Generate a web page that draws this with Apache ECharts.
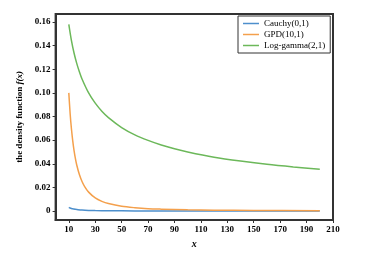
<!DOCTYPE html>
<html><head><meta charset="utf-8">
<script src="https://cdn.jsdelivr.net/npm/echarts@6/dist/echarts.min.js"></script>
<style>html,body{margin:0;padding:0;background:#fff}#c{width:380px;height:269px}</style>
</head><body><div id="c"></div>
<script>
var seriesNames = ['Cauchy(0,1)', 'GPD(10,1)', 'Log-gamma(2,1)'];
var xCauchy = [10,11,12,13,14,15,17,20,25,30,40,50,70,100,150,200];
var yCauchy = [0.00315,0.00261,0.00220,0.00187,0.00162,0.00141,0.00110,0.00079,0.00051,0.00035,0.00020,0.00013,0.000065,0.000032,0.000014,0.000008];
var xGpd = [10,11,12,13,14,15,16,18,20,22,25,30,35,40,50,60,70,80,100,120,150,200];
var yGpd = [0.1,0.0826,0.0694,0.0592,0.051,0.0444,0.039,0.0309,0.025,0.0207,0.016,0.0111,0.0082,0.0063,0.004,0.0028,0.002,0.0016,0.001,0.0007,0.00044,0.00025];
var xLg = [10,12,14,16,18,20,25,30,35,40,50,60,70,80,90,100,120,140,160,180,200];
var yLg = [0.1581,0.1443,0.1336,0.125,0.1179,0.1118,0.1,0.0913,0.0845,0.0791,0.0707,0.0645,0.0598,0.0559,0.0527,0.05,0.0456,0.0423,0.0395,0.0373,0.0354];
var xTicks = [10,30,50,70,90,110,130,150,170,190,210];
var yTicks = [0,0.02,0.04,0.06,0.08,0.10,0.12,0.14,0.16];

function pairs(xs, ys){ return xs.map(function(x,i){ return [x, ys[i]]; }); }
var colors = ['#4d8fcc', '#f4a04c', '#6cb85a'];
var serif = 'Liberation Serif';
var chart = echarts.init(document.getElementById('c'), null, {renderer:'canvas'});
chart.setOption({
  animation: false,
  color: colors,
  grid: {left: 55.6, right: 47, top: 14, bottom: 49, show: true, borderColor: '#333', borderWidth: 2, backgroundColor: 'transparent'},
  legend: {
    orient: 'vertical', left: 238, top: 16,
    data: seriesNames,
    icon: 'rect', itemWidth: 16, itemHeight: 1.5, itemGap: 2,
    borderColor: '#333', borderWidth: 1, padding: [3, 5, 3, 5],
    textStyle: {fontFamily: serif, fontSize: 9, color: '#000'}
  },
  xAxis: {
    type: 'value', min: 0, max: 210,
    name: 'x', nameLocation: 'middle', nameGap: 19,
    nameTextStyle: {fontFamily: serif, fontSize: 10, fontStyle: 'italic', fontWeight: 'bold', color: '#000'},
    axisLine: {show: true, onZero: false, lineStyle: {color: '#333', width: 2}},
    axisTick: {show: true, customValues: xTicks, length: 3, lineStyle: {color: '#333'}},
    axisLabel: {customValues: xTicks, fontFamily: serif, fontSize: 9, fontWeight: 'bold', color: '#000', margin: 5},
    splitLine: {show: false}
  },
  yAxis: {
    type: 'value', min: -0.0076, max: 0.1668,
    name: 'the density function {i|f(x)}', nameLocation: 'middle', nameGap: 27, nameRotate: 90,
    nameTextStyle: {fontFamily: serif, fontSize: 9, fontWeight: 'bold', color: '#000',
      rich: {i: {fontFamily: serif, fontSize: 9, fontWeight: 'bold', fontStyle: 'italic', color: '#000'}}},
    axisLine: {show: true, onZero: false, lineStyle: {color: '#333', width: 2}},
    axisTick: {show: true, customValues: yTicks, length: 3, lineStyle: {color: '#333'}},
    axisLabel: {customValues: yTicks, fontFamily: serif, fontSize: 9, fontWeight: 'bold', color: '#000', margin: 5,
      formatter: function(v){ return Math.abs(v) < 1e-9 ? '0' : v.toFixed(2); }},
    splitLine: {show: false}
  },
  series: [
    {name: seriesNames[0], type: 'line', showSymbol: false, smooth: 0.3, lineStyle: {width: 1.5}, data: pairs(xCauchy, yCauchy)},
    {name: seriesNames[1], type: 'line', showSymbol: false, smooth: 0.3, lineStyle: {width: 1.5}, data: pairs(xGpd, yGpd)},
    {name: seriesNames[2], type: 'line', showSymbol: false, smooth: 0.3, lineStyle: {width: 1.5}, data: pairs(xLg, yLg)}
  ]
});
</script></body></html>
